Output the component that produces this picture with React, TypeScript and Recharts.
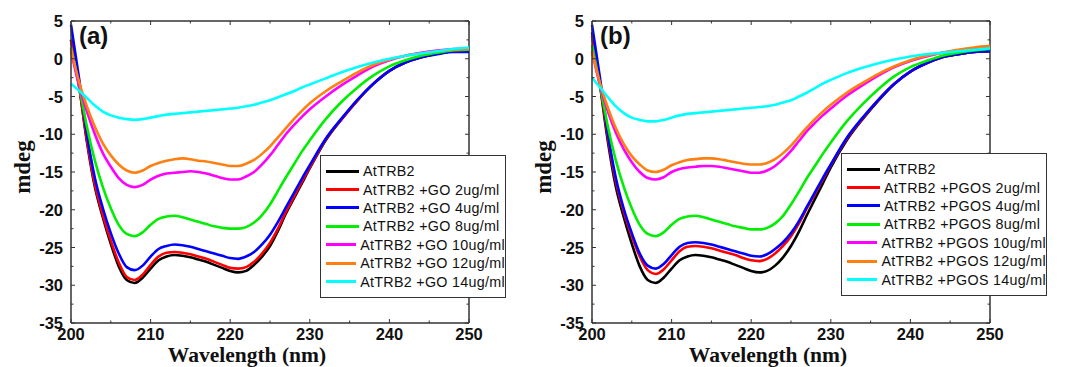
import React from 'react';
import { LineChart, Line, XAxis, YAxis, Legend, ReferenceLine } from 'recharts';

const WL = [
  200, 201, 202, 203, 204, 205, 206, 207, 208, 209, 210, 211, 212, 213, 214, 215, 216, 217, 218, 219, 220,
  221, 222, 223, 224, 225, 226, 227, 228, 229, 230, 232, 234, 236, 238, 240, 242, 244, 246, 248, 250,
];

// panel (a) - GO
const A_BLACK = [2.5, -3.5, -11, -17, -21, -24.5, -27.5, -29.3, -29.7, -29, -27.8, -26.7, -26.2, -26, -26.1, -26.3, -26.6, -26.9, -27.3, -27.7, -28.1, -28.3, -28.1, -27.3, -26.2, -24.8, -22.8, -20.5, -18.5, -16.5, -14.5, -10.8, -8, -5.5, -3.3, -1.6, -0.5, 0.2, 0.7, 1.0, 1.1];
const A_RED = [2.5, -3.5, -10.8, -16.7, -20.7, -24.1, -27, -28.9, -29.3, -28.6, -27.3, -26.2, -25.7, -25.6, -25.7, -25.9, -26.2, -26.5, -26.9, -27.3, -27.7, -27.8, -27.6, -26.9, -25.8, -24.4, -22.5, -20.3, -18.3, -16.3, -14.4, -10.7, -8, -5.5, -3.3, -1.6, -0.5, 0.2, 0.7, 1.0, 1.1];
const A_BLUE = [4.5, -2.5, -10, -15.8, -19.8, -23.1, -25.8, -27.6, -28, -27.4, -26.2, -25.2, -24.8, -24.6, -24.7, -24.9, -25.2, -25.5, -25.8, -26.1, -26.4, -26.5, -26.2, -25.6, -24.6, -23.3, -21.6, -19.7, -17.8, -15.9, -14.1, -10.6, -7.9, -5.4, -3.3, -1.6, -0.5, 0.2, 0.6, 0.9, 0.9];
const A_GREEN = [1.5, -3.5, -9, -13.5, -17, -19.8, -22, -23.2, -23.5, -23, -22, -21.2, -20.9, -20.8, -21, -21.3, -21.6, -21.9, -22.2, -22.4, -22.5, -22.5, -22.3, -21.7, -20.7, -19.3, -17.5, -15.7, -14, -12.3, -10.8, -8, -5.7, -3.8, -2.2, -1, -0.2, 0.4, 0.8, 1.1, 1.2];
const A_MAGENTA = [1, -3.5, -7, -10, -12.5, -14.3, -15.8, -16.7, -17, -16.7, -16, -15.5, -15.2, -15.1, -15, -14.9, -15, -15.2, -15.5, -15.8, -16, -16, -15.6, -15, -14, -12.8, -11.4, -10, -8.8, -7.7, -6.7, -5, -3.5, -2.2, -1, -0.2, 0.4, 0.8, 1.1, 1.3, 1.4];
const A_ORANGE = [1.3, -3, -6.3, -9, -11.2, -12.8, -14, -14.8, -15.1, -14.8, -14.2, -13.8, -13.5, -13.3, -13.2, -13.3, -13.5, -13.6, -13.8, -14, -14.2, -14.2, -13.9, -13.4, -12.6, -11.6, -10.4, -9.2, -8, -6.9, -5.9, -4.3, -3, -1.8, -0.8, -0.1, 0.4, 0.7, 1.0, 1.2, 1.3];
const A_CYAN = [-3.3, -4.2, -5.2, -6.2, -7, -7.5, -7.8, -8, -8.1, -8, -7.8, -7.6, -7.4, -7.3, -7.2, -7.1, -7, -6.9, -6.8, -6.7, -6.6, -6.5, -6.3, -6.1, -5.8, -5.5, -5.1, -4.7, -4.3, -3.8, -3.4, -2.6, -1.8, -1.1, -0.5, 0, 0.4, 0.7, 1.0, 1.3, 1.5];

// panel (b) - PGOS
const B_BLACK = [3.5, -3.5, -11, -17, -21, -24.5, -27.5, -29.3, -29.7, -29, -27.8, -26.7, -26.2, -26, -26.1, -26.3, -26.6, -26.9, -27.3, -27.7, -28.1, -28.3, -28.1, -27.4, -26.3, -24.8, -22.9, -20.7, -18.6, -16.5, -14.4, -10.8, -8, -5.5, -3.3, -1.7, -0.6, 0.2, 0.6, 0.9, 1.0];
const B_RED = [3, -3.3, -10.5, -16.3, -20.3, -23.5, -26.2, -28, -28.5, -27.9, -26.7, -25.5, -24.9, -24.8, -24.9, -25.1, -25.4, -25.7, -26, -26.4, -26.7, -26.8, -26.5, -25.8, -24.8, -23.5, -21.8, -19.8, -17.9, -16, -14.1, -10.6, -7.9, -5.4, -3.3, -1.7, -0.6, 0.2, 0.6, 0.9, 1.0];
const B_BLUE = [4.5, -2.5, -10, -15.8, -19.9, -23.1, -25.8, -27.4, -27.8, -27.2, -26, -24.9, -24.4, -24.3, -24.4, -24.6, -24.9, -25.2, -25.5, -25.8, -26.1, -26.2, -25.9, -25.2, -24.3, -23.1, -21.5, -19.6, -17.7, -15.8, -14, -10.5, -7.8, -5.4, -3.3, -1.7, -0.6, 0.2, 0.6, 0.9, 1.0];
const B_GREEN = [1.8, -3.5, -9, -13.5, -17, -19.8, -22, -23.2, -23.5, -23, -22, -21.2, -20.9, -20.8, -21, -21.3, -21.6, -21.9, -22.2, -22.4, -22.6, -22.6, -22.4, -21.8, -20.8, -19.3, -17.6, -15.8, -14.2, -12.6, -11.1, -8.3, -6, -4, -2.3, -1.1, -0.3, 0.4, 0.8, 1.1, 1.3];
const B_MAGENTA = [1, -3.5, -7, -9.8, -12, -13.7, -15, -15.8, -16, -15.7, -15, -14.6, -14.4, -14.3, -14.2, -14.2, -14.3, -14.5, -14.7, -14.9, -15.1, -15.1, -14.8, -14.2, -13.3, -12.2, -10.9, -9.6, -8.5, -7.5, -6.6, -4.9, -3.5, -2.2, -1.1, -0.3, 0.3, 0.8, 1.1, 1.3, 1.5];
const B_ORANGE = [1, -3.2, -6.5, -9.2, -11.3, -12.9, -14, -14.8, -15, -14.7, -14.1, -13.7, -13.4, -13.3, -13.2, -13.2, -13.3, -13.5, -13.7, -13.9, -14, -14, -13.8, -13.3, -12.5, -11.5, -10.3, -9.1, -8, -7, -6.1, -4.5, -3.2, -2, -1, -0.2, 0.4, 0.8, 1.2, 1.5, 1.7];
const B_CYAN = [-2.5, -3.8, -5.1, -6.3, -7.2, -7.8, -8.1, -8.3, -8.3, -8.1, -7.8, -7.5, -7.3, -7.2, -7.1, -7, -6.9, -6.8, -6.7, -6.6, -6.5, -6.4, -6.3, -6.1, -5.8, -5.5, -5.0, -4.5, -3.9, -3.3, -2.8, -1.9, -1.2, -0.6, -0.1, 0.3, 0.6, 0.8, 1.0, 1.2, 1.4];

const COLORS = ['#000000', '#ff0000', '#0000ff', '#00ee00', '#ff00ff', '#ff7f10', '#00ffff'];
const A_NAMES = ['AtTRB2', 'AtTRB2 +GO 2ug/ml', 'AtTRB2 +GO 4ug/ml', 'AtTRB2 +GO 8ug/ml', 'AtTRB2 +GO 10ug/ml', 'AtTRB2 +GO 12ug/ml', 'AtTRB2 +GO 14ug/ml'];
const B_NAMES = ['AtTRB2', 'AtTRB2 +PGOS 2ug/ml', 'AtTRB2 +PGOS 4ug/ml', 'AtTRB2 +PGOS 8ug/ml', 'AtTRB2 +PGOS 10ug/ml', 'AtTRB2 +PGOS 12ug/ml', 'AtTRB2 +PGOS 14ug/ml'];

const X_TICKS = [200, 205, 210, 215, 220, 225, 230, 235, 240, 245, 250];
const Y_TICKS = [-35, -32.5, -30, -27.5, -25, -22.5, -20, -17.5, -15, -12.5, -10, -7.5, -5, -2.5, 0, 2.5, 5];

const W = 534;
const H = 367;
const M = { top: 21, right: 65, bottom: 0, left: 0 };
const Y_W = 71;
const X_H = 44;
const PLOT_W = W - M.left - M.right - Y_W;
const PLOT_H = H - M.top - M.bottom - X_H;
const AXIS = '#333';

const TICK_FONT = { fontFamily: 'Liberation Sans, Arial, sans-serif', fontWeight: 700, fontSize: 16.5, fill: '#111' };
const SERIF = 'Liberation Serif, Times New Roman, serif';

function YTick(props: any) {
  const { x, y, payload } = props;
  const v = payload.value;
  const major = v % 5 === 0;
  const ax = x + 8;
  const len = major ? 4 : 2.5;
  return (
    <g>
      <line x1={ax} x2={ax + len} y1={y} y2={y} stroke={AXIS} strokeWidth={1} />
      <line x1={ax + PLOT_W} x2={ax + PLOT_W - len} y1={y} y2={y} stroke={AXIS} strokeWidth={1} />
      {major && (
        <text x={x} y={y} dy={6} textAnchor="end" {...TICK_FONT}>
          {v}
        </text>
      )}
    </g>
  );
}

function XTick(props: any) {
  const { x, y, payload } = props;
  const v = payload.value;
  const major = v % 10 === 0;
  const len = major ? 4 : 2.5;
  const ay = y - 4;
  return (
    <g>
      <line x1={x} x2={x} y1={ay} y2={ay - len} stroke={AXIS} strokeWidth={1} />
      <line x1={x} x2={x} y1={ay - PLOT_H} y2={ay - PLOT_H + len} stroke={AXIS} strokeWidth={1} />
      {major && (
        <text x={x} y={y} dy={13} textAnchor="middle" {...TICK_FONT}>
          {v}
        </text>
      )}
    </g>
  );
}

function makeLegend(width: number) {
  return function LegendBox(props: any) {
    const items = [...(props.payload || [])].sort(
      (a: any, b: any) => Number(String(a.dataKey).slice(1)) - Number(String(b.dataKey).slice(1))
    );
    return (
      <div
        style={{
          width,
          border: '1px solid #333',
          background: '#fff',
          padding: '6px 0 6px 5px',
          boxSizing: 'border-box',
          fontFamily: 'Liberation Sans, Arial, sans-serif',
          fontSize: 14.3,
          color: '#111',
          letterSpacing: 0.3,
          textAlign: 'left',
        }}
      >
        {items.map((p: any, i: number) => (
          <div key={i} style={{ display: 'flex', alignItems: 'center', height: 18.4, whiteSpace: 'nowrap' }}>
            <span style={{ display: 'inline-block', width: 33, height: 3, background: p.color, marginRight: 4 }} />
            <span>{p.value}</span>
          </div>
        ))}
      </div>
    );
  };
}

function Panel({ series, names, tag, legendWidth, legendTop }: { series: number[][]; names: string[]; tag: string; legendWidth: number; legendTop: number }) {
  const data = WL.map((w, i) => {
    const row: any = { w };
    series.forEach((s, k) => {
      row['s' + k] = s[i];
    });
    return row;
  });
  const LegendBox = makeLegend(legendWidth);
  return (
    <LineChart width={W} height={H} data={data} margin={M}>
      <XAxis
        dataKey="w"
        type="number"
        domain={[200, 250]}
        ticks={X_TICKS}
        interval={0}
        height={X_H}
        tickSize={0}
        tickMargin={4}
        tickLine={false}
        axisLine={{ stroke: AXIS, strokeWidth: 1.5 }}
        tick={<XTick />}
        label={(p: any) => {
          const vb = p.viewBox;
          return (
            <text x={vb.x + vb.width / 2 - 23} y={361.5} textAnchor="middle" fontFamily={SERIF} fontWeight={700} fontSize={21.5} fill="#111">
              Wavelength (nm)
            </text>
          );
        }}
      />
      <YAxis
        type="number"
        domain={[-35, 5]}
        ticks={Y_TICKS}
        interval={0}
        width={Y_W}
        tickSize={0}
        tickMargin={8}
        tickLine={false}
        axisLine={{ stroke: AXIS, strokeWidth: 1.5 }}
        tick={<YTick />}
        label={(p: any) => {
          const vb = p.viewBox;
          const cy = vb.y + 146;
          return (
            <text x={30} y={cy} transform={`rotate(-90 30 ${cy})`} textAnchor="middle" fontFamily={SERIF} fontWeight={700} fontSize={23} fill="#111">
              mdeg
            </text>
          );
        }}
      />
      <ReferenceLine y={5} stroke={AXIS} strokeWidth={1.5} />
      <ReferenceLine x={250} stroke={AXIS} strokeWidth={1.5} />
      {series.map((_, k) => (
        <Line
          key={k}
          type="monotone"
          dataKey={'s' + k}
          name={names[k]}
          stroke={COLORS[k]}
          strokeWidth={2.6}
          dot={false}
          isAnimationActive={false}
        />
      ))}
      <Legend
        layout="vertical"
        verticalAlign="middle"
        align="center"
        content={<LegendBox />}
        wrapperStyle={{ position: 'absolute', left: 320, top: legendTop, width: legendWidth }}
      />
      <text x={79} y={44} fontFamily="Liberation Sans, Arial, sans-serif" fontWeight={700} fontSize={24} fill="#111">
        {tag}
      </text>
    </LineChart>
  );
}

export default function App() {
  return (
    <div style={{ position: 'absolute', left: 0, top: 0, width: 1068, height: 367, background: '#fff', overflow: 'hidden' }}>
      <div style={{ position: 'absolute', left: 0, top: 0 }}>
        <Panel
          series={[A_BLACK, A_RED, A_BLUE, A_GREEN, A_MAGENTA, A_ORANGE, A_CYAN]}
          names={A_NAMES}
          tag="(a)"
          legendWidth={186}
          legendTop={155}
        />
      </div>
      <div style={{ position: 'absolute', left: 521, top: 0 }}>
        <Panel
          series={[B_BLACK, B_RED, B_BLUE, B_GREEN, B_MAGENTA, B_ORANGE, B_CYAN]}
          names={B_NAMES}
          tag="(b)"
          legendWidth={206}
          legendTop={153}
        />
      </div>
    </div>
  );
}
